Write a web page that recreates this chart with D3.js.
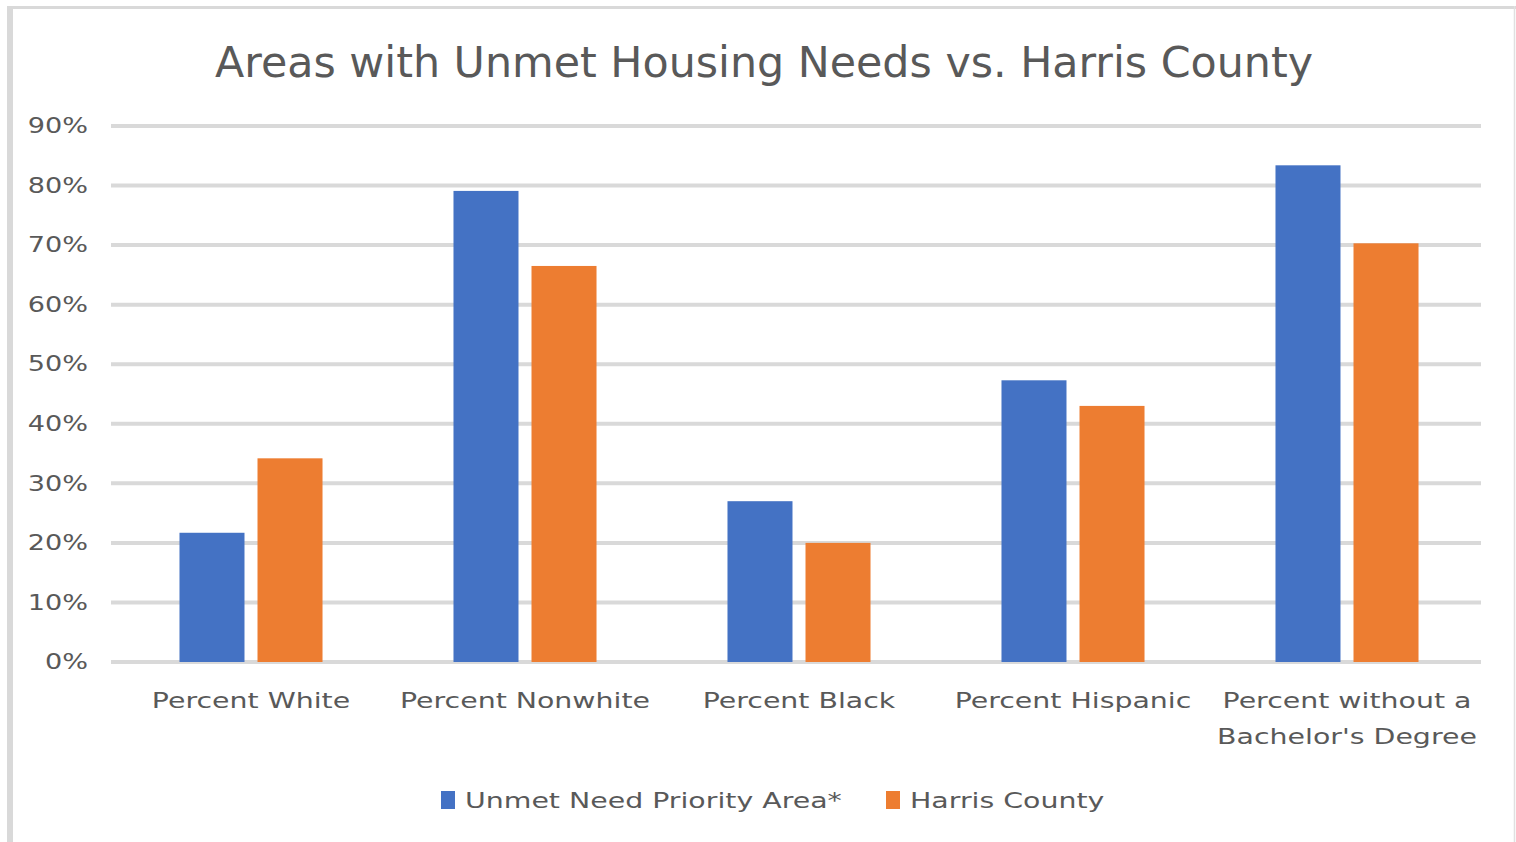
<!DOCTYPE html>
<html><head><meta charset="utf-8">
<script src="https://cdn.jsdelivr.net/npm/d3@7"></script>
<style>body{margin:0;background:#fff;} svg{display:block;}</style>
</head><body>
<script>
const categories = ["Percent White", "Percent Nonwhite", "Percent Black", "Percent Hispanic", "Percent without a|Bachelor's Degree"];
const seriesNames = ["Unmet Need Priority Area*", "Harris County"];
const unmetValues = [21.7, 79.1, 27.0, 47.3, 83.4];
const harrisValues = [34.2, 66.5, 20.0, 43.0, 70.3];
const yTicks = [0, 10, 20, 30, 40, 50, 60, 70, 80, 90];
const colors = ["#4472c4", "#ed7d31"];
const title = "Areas with Unmet Housing Needs vs. Harris County";

const W = 1516, H = 842;
const font = "'DejaVu Sans', sans-serif";
const textColor = "#595959";
const stretch = 1.29;
const svg = d3.select("body").append("svg").attr("width", W).attr("height", H);

function widen(sel) {
  sel.each(function() {
    const n = this;
    const w = n.getComputedTextLength();
    d3.select(n).attr("textLength", w * stretch).attr("lengthAdjust", "spacingAndGlyphs");
  });
}

// outer frame
svg.append("line").attr("x1", 10).attr("x2", 10).attr("y1", 6).attr("y2", H).attr("stroke", "#d9d9d9").attr("stroke-width", 6);
svg.append("line").attr("x1", 7).attr("x2", 1516).attr("y1", 7.5).attr("y2", 7.5).attr("stroke", "#d9d9d9").attr("stroke-width", 3);
svg.append("line").attr("x1", 1514.5).attr("x2", 1514.5).attr("y1", 6).attr("y2", H).attr("stroke", "#e0e0e0").attr("stroke-width", 1.5);

const y = d3.scaleLinear().domain([0, 90]).range([662, 126]);
const x0 = d3.scaleBand().domain(categories).range([114, 1484]).paddingInner(0.478).paddingOuter(0.239);
const x1 = d3.scaleBand().domain(seriesNames).range([0, x0.bandwidth()]).paddingInner(0.1667);

// gridlines
svg.append("g").selectAll("line").data(yTicks).join("line")
  .attr("x1", 111).attr("x2", 1481)
  .attr("y1", d => y(d)).attr("y2", d => y(d))
  .attr("stroke", "#d9d9d9").attr("stroke-width", 4);

// y axis labels
const yAxis = d3.axisLeft(y).tickValues(yTicks).tickFormat(d => d + "%").tickSize(0).tickPadding(0);
const ga = svg.append("g").attr("transform", "translate(88,0)").call(yAxis);
ga.select(".domain").remove();
ga.selectAll("text").attr("font-family", font).attr("font-size", 21).attr("fill", textColor).call(widen);

// bars
const rows = categories.map((c, i) => ({cat: c, vals: [unmetValues[i], harrisValues[i]]}));
const groups = svg.append("g").selectAll("g").data(rows).join("g")
  .attr("transform", d => `translate(${x0(d.cat)},0)`);
groups.selectAll("rect").data(d => d.vals.map((v, j) => ({s: seriesNames[j], v, j}))).join("rect")
  .attr("x", d => x1(d.s)).attr("width", x1.bandwidth())
  .attr("y", d => y(d.v)).attr("height", d => y(0) - y(d.v))
  .attr("fill", d => colors[d.j]);

// category labels
const xl = svg.append("g");
categories.forEach(c => {
  c.split("|").forEach((ln, k) => {
    xl.append("text").attr("text-anchor", "middle")
      .attr("x", x0(c) + x0.bandwidth() / 2).attr("y", 708 + k * 36)
      .attr("font-family", font).attr("font-size", 22).attr("fill", textColor).text(ln);
  });
});
xl.selectAll("text").call(widen);

// title
svg.append("text").attr("x", 764).attr("y", 77).attr("text-anchor", "middle")
  .attr("font-family", font).attr("font-size", 42).attr("fill", textColor)
  .attr("textLength", 1098).attr("lengthAdjust", "spacingAndGlyphs").text(title);

// legend
const legendX = [441, 886];
seriesNames.forEach((s, j) => {
  svg.append("rect").attr("x", legendX[j]).attr("y", 791).attr("width", 14).attr("height", 18).attr("fill", colors[j]);
  svg.append("text").attr("x", legendX[j] + 24).attr("y", 808)
    .attr("font-family", font).attr("font-size", 22).attr("fill", textColor).text(s).call(widen);
});
</script>
</body></html>
